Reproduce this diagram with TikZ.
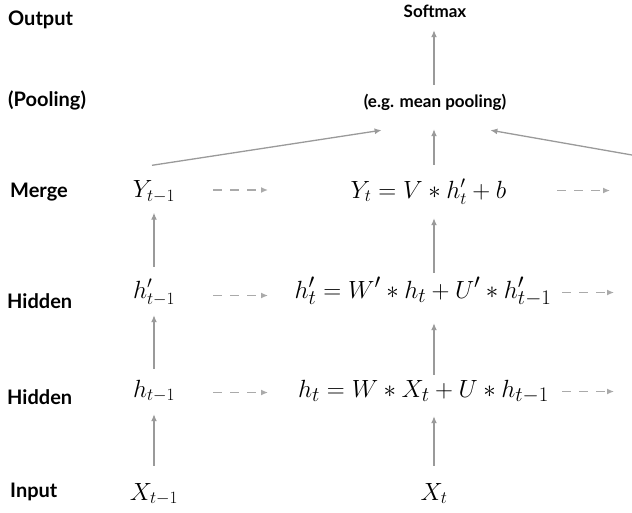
\documentclass[tikz,border=0pt]{standalone}
\usepackage{fontspec}
\setmainfont{Lato}
\usetikzlibrary{arrows.meta}
\definecolor{arrgray}{HTML}{9A9A9A}
\definecolor{dashgray}{HTML}{AAAAAA}
\begin{document}
\begin{tikzpicture}[x=1pt,y=-1pt,
  lbl/.style={anchor=base west,font=\fontsize{20}{24}\selectfont\bfseries,inner sep=0pt},
  toplbl/.style={anchor=center,font=\fontsize{17}{20}\selectfont\bfseries,inner sep=0pt,text height=12pt,text depth=4pt},
  eq/.style={anchor=base,font=\fontsize{26}{30}\selectfont,inner sep=0pt,text height=21pt,text depth=6pt},
  bigeq/.style={eq,font=\fontsize{29}{33}\selectfont},
  arr/.style={draw=arrgray,line width=1.3pt,-{Latex[length=7pt,width=6pt]}},
  darr/.style={draw=dashgray,line width=1.3pt,dash pattern=on 9pt off 8pt,-{Latex[length=7pt,width=6pt]}}]
\useasboundingbox (0,0) rectangle (632,512);

% row labels
\node[lbl] (lout) at (8,25) {Output};
\node[lbl] (lpool) at (8,106) {(Pooling)};
\node[lbl] (lmerge) at (10,197) {Merge};
\node[lbl] (lhid2) at (7,308) {Hidden};
\node[lbl] (lhid1) at (7,404) {Hidden};
\node[lbl] (lin) at (10,497) {Input};

% top nodes
\node[toplbl] (soft) at (435,13) {Softmax};
\node[toplbl] (pool) at (435,103) {(e.g. mean pooling)};

% column t-1
\node[eq] (Y1) at (154,197.5) {$Y_{t-1}$};
\node[eq] (hp1) at (154,298) {$h'_{t-1}$};
\node[eq] (h1) at (154,397) {$h_{t-1}$};
\node[eq] (X1) at (154,500) {$X_{t-1}$};

% column t
\node[eq] (Yt) at (428.5,198) {$Y_t = V * h'_t + b$};
\node[bigeq] (hpt) at (423,298) {$h'_t = W' * h_t + U' * h'_{t-1}$};
\node[bigeq] (ht) at (423.5,397) {$h_t = W * X_t + U * h_{t-1}$};
\node[eq] (Xt) at (434,500) {$X_t$};

\coordinate (Ynext) at (632,155);

% vertical arrows column t-1
\draw[arr,shorten <=10pt,shorten >=9pt] (hp1.north) -- (Y1.south);
\draw[arr,shorten <=7pt,shorten >=11pt] (h1.north) -- (hp1.south);
\draw[arr,shorten <=13pt,shorten >=11pt] (X1.north) -- (h1.south);

% vertical arrows column t
\draw[arr,shorten <=13pt,shorten >=13pt] (Xt.north) -- (ht.south -| Xt);
\draw[arr,shorten <=1pt,shorten >=19pt] (ht.north -| Xt) -- (hpt.south -| Xt);
\draw[arr,shorten <=4pt,shorten >=14pt] (hpt.north -| Xt) -- (Yt.south -| Xt);
\draw[arr,shorten <=12pt,shorten >=18pt] (Yt.north -| Xt) -- (pool.south -| Xt);
\draw[arr,shorten <=10pt,shorten >=9pt] (pool.north -| Xt) -- (soft.south -| Xt);

% diagonal arrows into pooling
\draw[arr] ([xshift=-2pt,yshift=11pt]Y1.north) -- ([xshift=18pt,yshift=-19pt]pool.south west);
\draw[arr] (Ynext) -- ([xshift=-16pt,yshift=-19pt]pool.south east);

% dashed recurrent arrows
\draw[darr] ([xshift=59pt]Y1.center) -- ([xshift=114pt]Y1.center);
\draw[darr] ([xshift=59pt,yshift=-5pt]hp1.center) -- ([xshift=114pt,yshift=-5pt]hp1.center);
\draw[darr] ([xshift=59pt,yshift=-3pt]h1.center) -- ([xshift=114pt,yshift=-3pt]h1.center);
\draw[darr] ([xshift=128.5pt]Yt.center) -- ([xshift=181.5pt]Yt.center);
\draw[darr] ([xshift=139pt,yshift=-2pt]hpt.center) -- ([xshift=191pt,yshift=-2pt]hpt.center);
\draw[darr] ([xshift=138.5pt,yshift=-2pt]ht.center) -- ([xshift=190.5pt,yshift=-2pt]ht.center);
\end{tikzpicture}
\end{document}
